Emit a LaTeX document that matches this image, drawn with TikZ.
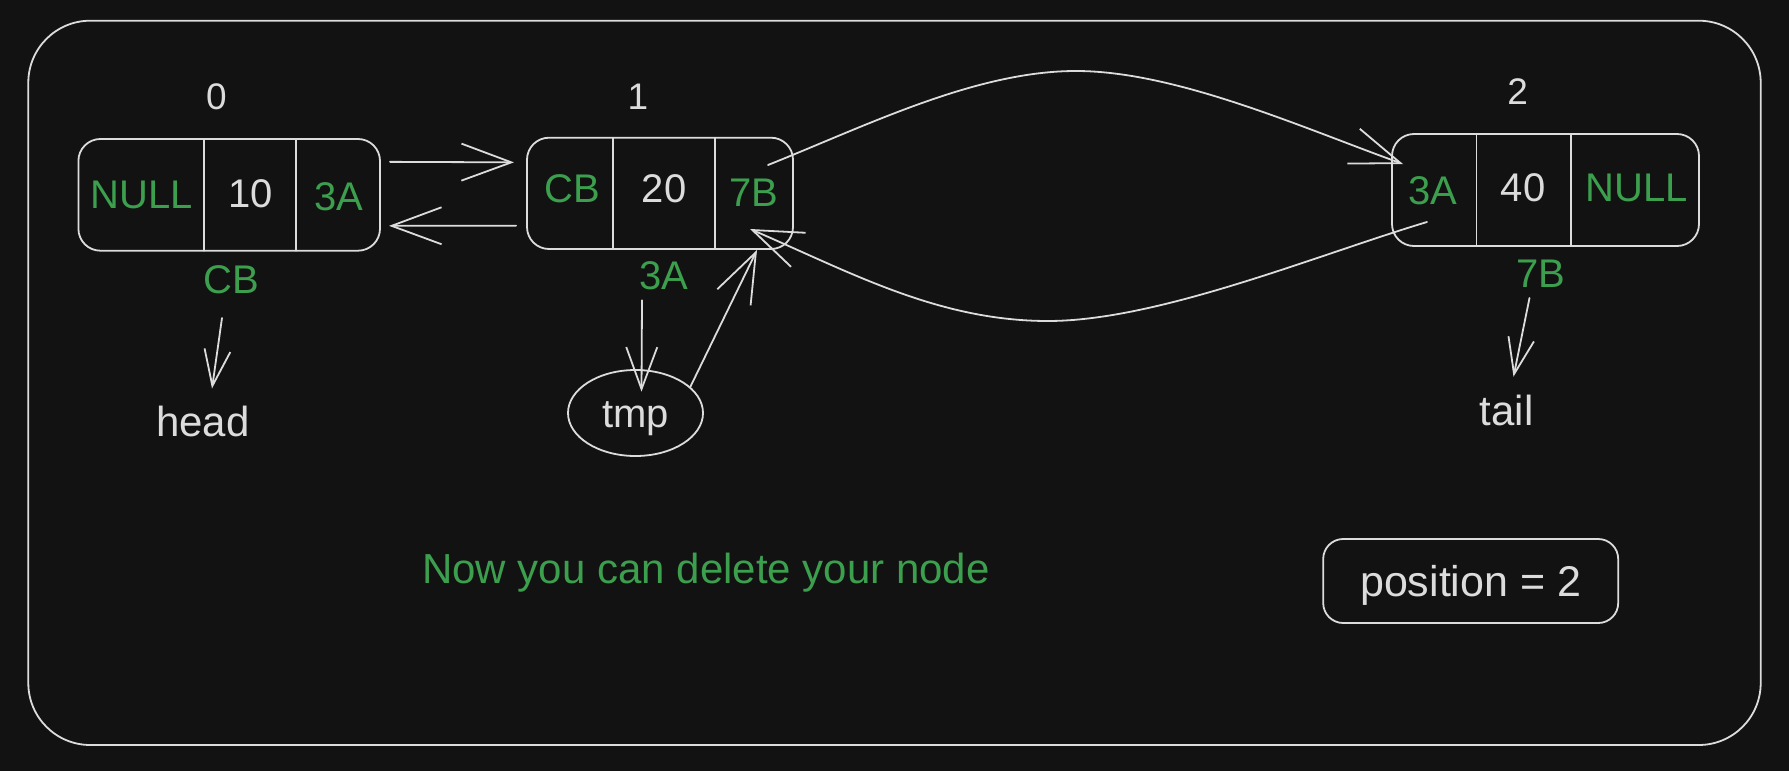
\documentclass[tikz,border=0pt]{standalone}
\usepackage{fontspec}
\setmainfont{Liberation Sans}
\usetikzlibrary{arrows.meta,calc,shapes.geometric}
\definecolor{bg}{HTML}{121212}
\definecolor{ink}{HTML}{DCDCDC}
\definecolor{grn}{HTML}{3C9F4E}
\begin{document}
\begin{tikzpicture}[x=1pt,y=-1pt,line width=1.8pt,line cap=round,line join=round,
  every node/.style={inner sep=0pt,outer sep=0pt},
  txt/.style={text=ink,font=\fontsize{40}{40}\selectfont,text height=28.6pt,text depth=0pt},
  gtxt/.style={txt,text=grn},
  idx/.style={txt,font=\fontsize{37}{37}\selectfont,text height=26.5pt},
  cellbox/.style={draw=ink,rounded corners=22pt},
  bigtip/.style={draw=ink,-{Straight Barb[length=50pt,width=37pt]}},
  midtip/.style={draw=ink,-{Straight Barb[length=42pt,width=31pt]}},
  smalltip/.style={draw=ink,-{Straight Barb[length=36pt,width=26pt]}}]
\fill[bg] (0,0) rectangle (1789,771);
\useasboundingbox (0,0) rectangle (1789,771);
\draw[ink,rounded corners=62pt] (28.3,20.7) rectangle (1760.7,745);

% node 0
\node[cellbox,minimum width=301.6pt,minimum height=111.7pt] (b0) at (229.2,194.85) {};
\draw[ink] (b0.north west) ++(125.6,0) -- ++(0,111.7);
\draw[ink] (b0.north west) ++(217.2,0) -- ++(0,111.7);
\node[gtxt] (c00) at (142,194) {NULL};
\node[txt] (c01) at (250.5,193) {10};
\node[gtxt] (c02) at (338.7,196) {3A};
\node[idx] (i0) at (216.5,96.7) {0};
\node[gtxt] (l0) at (231,279) {CB};
\node[txt,font=\fontsize{42}{42}\selectfont,text height=30pt] (head) at (203,421.5) {head};

% node 1
\node[cellbox,minimum width=266pt,minimum height=111.3pt] (b1) at (660,193.35) {};
\draw[ink] (b1.north west) ++(86,0) -- ++(0,111.3);
\draw[ink] (b1.north west) ++(188,0) -- ++(0,111.3);
\node[gtxt] (c10) at (572.5,188) {CB};
\node[txt] (c11) at (664,188) {20};
\node[gtxt] (c12) at (754,192) {7B};
\node[idx] (i1) at (638,96.5) {1};
\node[gtxt] (l1) at (664,275) {3A};
\node[txt,draw=ink,ellipse,minimum width=135pt,minimum height=86pt] (tmp) at (635.5,413) {tmp};

% node 2
\node[cellbox,minimum width=307pt,minimum height=112pt] (b2) at (1545.5,190) {};
\draw[ink] (b2.north west) ++(84.5,0) -- ++(0,112);
\draw[ink] (b2.north west) ++(179,0) -- ++(0,112);
\node[gtxt] (c20) at (1433,190) {3A};
\node[txt] (c21) at (1523,187) {40};
\node[gtxt] (c22) at (1637,187) {NULL};
\node[idx] (i2) at (1517.6,91.7) {2};
\node[gtxt] (l2) at (1541,273) {7B};
\node[txt,font=\fontsize{42}{42}\selectfont,text height=30pt] (tail) at (1506.5,410) {tail};

% texts
\node[gtxt,font=\fontsize{42}{42}\selectfont,text height=30pt] (msg) at (706,568) {Now you can delete your node};
\node[txt,cellbox,rounded corners=20pt,font=\fontsize{43}{43}\selectfont,text height=30.8pt,minimum width=295pt,minimum height=84pt] (pos) at (1470.7,581) {position = 2};

\coordinate (topmid) at (1076,71);
\coordinate (botmid) at (1048,321);

% connectors
\draw[bigtip] ($(b0.east)+(10,-33)$) -- ($(b1.west)+(-13,-31)$);
\draw[bigtip] ($(b1.west)+(-11,32.3)$) -- ($(b0.east)+(9,31)$);
\draw[bigtip] ($(b1.north east)+(-25,27.3)$) .. controls +(100,-40) and +(-100,0) .. (topmid)
   .. controls +(100,0) and +(-100,-36) .. ($(b2.west)+(11,-26)$);
\draw[bigtip] ($(b2.west)+(35,32)$) .. controls +(-110,33) and +(110,0) .. (botmid)
   .. controls +(-110,0) and +(100,43) .. ($(b1.south east)+(-43,-20)$);
\draw[bigtip] (tmp.25) -- ($(b1.south east)+(-36,1)$);
\draw[smalltip] ($(l0)+(-9,39)$) -- ($(head)+(9,-33)$);
\draw[midtip] ($(l1)+(-22,25.3)$) -- ($(tmp)+(6,-21.3)$);
\draw[smalltip] ($(l2)+(-11.5,25)$) -- ($(tail)+(7,-33.3)$);
\end{tikzpicture}
\end{document}
